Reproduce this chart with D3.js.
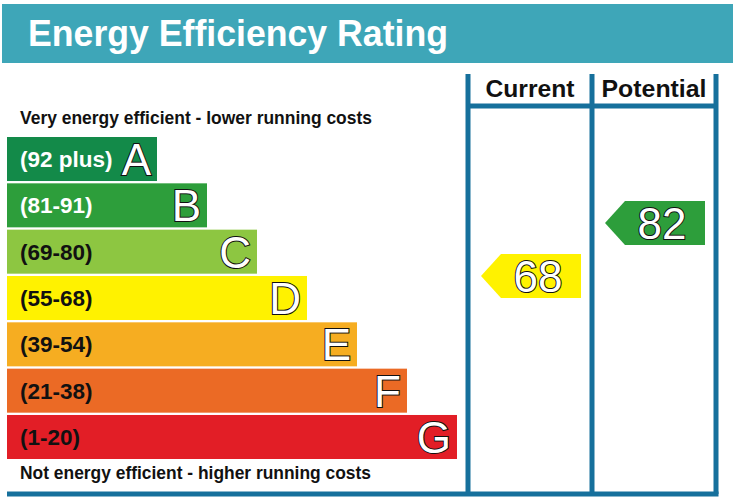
<!DOCTYPE html>
<html>
<head>
<meta charset="utf-8">
<script src="https://cdn.jsdelivr.net/npm/d3@7"></script>
<style>
    body { margin: 0; background: #fff; }
    .epc-chart { width: 733px; height: 499px; }
    text { font-family: "Liberation Sans", Arial, sans-serif; }
</style>
</head>
<body>
<div class="epc-chart"></div>
<script>

// band letters, top (best) to bottom (worst)
const bandLetters = ["A", "B", "C", "D", "E", "F", "G"];
const bandRanges = ["(92 plus)", "(81-91)", "(69-80)", "(55-68)", "(39-54)", "(21-38)", "(1-20)"];
const bandMins = [92, 81, 69, 55, 39, 21, 1];

// rating columns and their values
const ratingColumns = ["Current", "Potential"];
const ratingValues = [68, 82];

const chartTitle = "Energy Efficiency Rating";
const topNote = "Very energy efficient - lower running costs";
const bottomNote = "Not energy efficient - higher running costs";


class EnergyChart {

    constructor(parentElement) {
        this.parentElement = parentElement;
        this.initVis();
    }

    initVis() {
        let vis = this;
        vis.width = 733;
        vis.height = 499;

        vis.svg = d3.select("." + vis.parentElement).append("svg")
            .attr("width", vis.width)
            .attr("height", vis.height);

        vis.lineColor = "#16709c";

        // band colours
        vis.color = d3.scaleOrdinal()
            .domain(bandLetters)
            .range(["#138a49", "#2d9e3b", "#8dc641", "#fff200", "#f6ad21", "#eb6a25", "#e21e26"]);

        vis.textColor = d3.scaleOrdinal()
            .domain(bandLetters)
            .range(["#fff", "#fff", "#111", "#111", "#111", "#111", "#111"]);

        // band rows
        vis.y = d3.scaleBand()
            .domain(bandLetters)
            .range([137, 459])
            .paddingInner(0.05);

        // bar length grows by one step per band
        vis.barWidth = d3.scaleLinear()
            .domain([0, bandLetters.length - 1])
            .range([150, 450]);

        // rating columns
        vis.x = d3.scaleBand()
            .domain(ratingColumns)
            .range([468, 716]);

        // arrow centre position from the rating value
        vis.yValue = d3.scaleLinear()
            .domain([0, 100])
            .range([533, 155]);

        vis.updateVis();
    }

    bandOf(value) {
        let i = bandMins.findIndex(m => value >= m);
        return bandLetters[i < 0 ? bandLetters.length - 1 : i];
    }

    updateVis() {
        let vis = this;

        // title strip
        vis.svg.append("rect")
            .attr("x", 2).attr("y", 4)
            .attr("width", vis.width - 2).attr("height", 59)
            .attr("fill", "#3ea6b8");

        vis.svg.append("text")
            .attr("x", 28).attr("y", 46)
            .attr("font-size", 37)
            .attr("font-weight", "bold")
            .attr("fill", "#fff")
            .attr("textLength", 420)
            .attr("lengthAdjust", "spacingAndGlyphs")
            .text(chartTitle);

        // notes
        vis.svg.append("text")
            .attr("x", 20).attr("y", 124)
            .attr("font-size", 17.5).attr("font-weight", "bold")
            .attr("fill", "#111")
            .attr("textLength", 352)
            .attr("lengthAdjust", "spacingAndGlyphs")
            .text(topNote);

        vis.svg.append("text")
            .attr("x", 20).attr("y", 479)
            .attr("font-size", 17.5).attr("font-weight", "bold")
            .attr("fill", "#111")
            .attr("textLength", 351)
            .attr("lengthAdjust", "spacingAndGlyphs")
            .text(bottomNote);

        // bars
        let bars = vis.svg.selectAll(".band")
            .data(bandLetters)
            .enter()
            .append("g")
            .attr("class", "band")
            .attr("transform", d => `translate(7, ${vis.y(d)})`);

        bars.append("rect")
            .attr("width", (d, i) => vis.barWidth(i))
            .attr("height", vis.y.bandwidth())
            .attr("fill", d => vis.color(d));

        bars.append("text")
            .attr("x", 13)
            .attr("y", vis.y.bandwidth() / 2 + 8)
            .attr("font-size", 22.5)
            .attr("font-weight", "bold")
            .attr("fill", d => vis.textColor(d))
            .text((d, i) => bandRanges[i]);

        bars.append("text")
            .attr("x", (d, i) => vis.barWidth(i) - 6)
            .attr("y", vis.y.bandwidth() / 2 + 16)
            .attr("text-anchor", "end")
            .attr("font-size", 44)
            .attr("fill", "#fff")
            .attr("stroke", "#111")
            .attr("stroke-width", 2)
            .attr("paint-order", "stroke")
            .text(d => d);

        // column frame
        let frame = vis.svg.append("g")
            .attr("stroke", vis.lineColor)
            .attr("stroke-width", 5)
            .attr("fill", "none");

        let edges = ratingColumns.map(c => vis.x(c)).concat([vis.x.range()[1]]);
        frame.selectAll("line.v")
            .data(edges)
            .enter()
            .append("line")
            .attr("class", "v")
            .attr("x1", d => d).attr("x2", d => d)
            .attr("y1", 74).attr("y2", 494);

        frame.append("line")
            .attr("x1", vis.x.range()[0]).attr("x2", vis.x.range()[1])
            .attr("y1", 106).attr("y2", 106);

        frame.append("line")
            .attr("x1", 7).attr("x2", vis.x.range()[1] + 2.5)
            .attr("y1", 494).attr("y2", 494);

        // column headers
        let headerLength = {"Current": 89, "Potential": 105};
        vis.svg.selectAll(".col-title")
            .data(ratingColumns)
            .enter()
            .append("text")
            .attr("class", "col-title")
            .attr("x", d => vis.x(d) + vis.x.bandwidth() / 2)
            .attr("y", 97)
            .attr("text-anchor", "middle")
            .attr("font-size", 23)
            .attr("font-weight", "bold")
            .attr("fill", "#111")
            .attr("textLength", d => headerLength[d])
            .attr("lengthAdjust", "spacingAndGlyphs")
            .text(d => d);

        // rating arrows
        let h = vis.y.bandwidth();
        let arrows = vis.svg.selectAll(".arrow")
            .data(ratingColumns)
            .enter()
            .append("g")
            .attr("class", "arrow")
            .attr("transform", (d, i) => `translate(${vis.x(d) + 13}, ${vis.yValue(ratingValues[i]) - h / 2})`);

        let aw = vis.x.bandwidth() - 24;
        arrows.append("path")
            .attr("d", `M0,${h / 2} L20,0 L${aw},0 L${aw},${h} L20,${h} Z`)
            .attr("fill", (d, i) => vis.color(vis.bandOf(ratingValues[i])));

        arrows.append("text")
            .attr("x", aw / 2 + 7)
            .attr("y", h / 2 + 16)
            .attr("text-anchor", "middle")
            .attr("font-size", 44)
            .attr("fill", "#fff")
            .attr("stroke", "#111")
            .attr("stroke-width", 2)
            .attr("paint-order", "stroke")
            .text((d, i) => ratingValues[i]);
    }
}

let epcChart = new EnergyChart("epc-chart");

</script>
</body>
</html>
